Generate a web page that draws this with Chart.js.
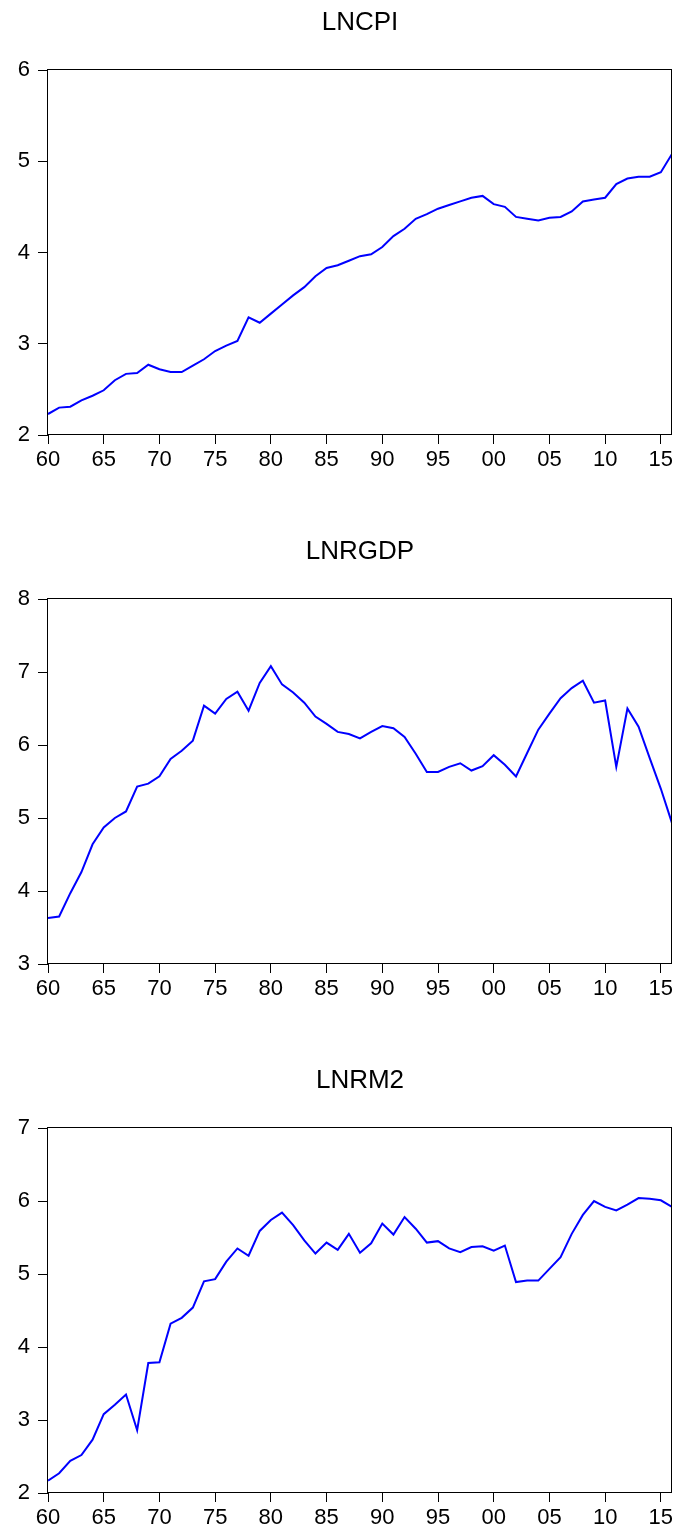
<!DOCTYPE html>
<html>
<head>
<meta charset="utf-8">
<script src="https://cdn.jsdelivr.net/npm/chart.js@4.4.1/dist/chart.umd.min.js"></script>
<style>
html, body { margin: 0; padding: 0; background: #fff; overflow: hidden; }
canvas { position: absolute; left: 0; }
</style>
</head>
<body>
<canvas id="cpiCanvas" width="680" height="470" style="top:0px"></canvas>
<canvas id="gdpCanvas" width="680" height="470" style="top:529px"></canvas>
<canvas id="m2Canvas" width="680" height="470" style="top:1058px"></canvas>
<script>
const years = [1960, 1961, 1962, 1963, 1964, 1965, 1966, 1967, 1968, 1969,
    1970, 1971, 1972, 1973, 1974, 1975, 1976, 1977, 1978, 1979,
    1980, 1981, 1982, 1983, 1984, 1985, 1986, 1987, 1988, 1989,
    1990, 1991, 1992, 1993, 1994, 1995, 1996, 1997, 1998, 1999,
    2000, 2001, 2002, 2003, 2004, 2005, 2006, 2007, 2008, 2009,
    2010, 2011, 2012, 2013, 2014, 2015, 2016];
const xTickLabels = ['60', '65', '70', '75', '80', '85', '90', '95', '00', '05', '10', '15'];

const lncpi = [2.23, 2.30, 2.31, 2.38, 2.43, 2.49, 2.60, 2.67, 2.68, 2.77,
    2.72, 2.69, 2.69, 2.76, 2.83, 2.92, 2.98, 3.03, 3.29, 3.23,
    3.33, 3.43, 3.53, 3.62, 3.74, 3.83, 3.86, 3.91, 3.96, 3.98,
    4.06, 4.18, 4.26, 4.37, 4.42, 4.48, 4.52, 4.56, 4.60, 4.62,
    4.53, 4.50, 4.39, 4.37, 4.35, 4.38, 4.39, 4.45, 4.56, 4.58,
    4.60, 4.75, 4.81, 4.83, 4.83, 4.88, 5.08];

const lnrgdp = [3.63, 3.65, 3.97, 4.26, 4.64, 4.87, 5.00, 5.09, 5.43, 5.47,
    5.57, 5.81, 5.92, 6.06, 6.54, 6.43, 6.63, 6.73, 6.47, 6.85,
    7.08, 6.83, 6.72, 6.58, 6.39, 6.29, 6.18, 6.15, 6.09, 6.18,
    6.26, 6.23, 6.11, 5.88, 5.63, 5.63, 5.70, 5.75, 5.65, 5.71,
    5.86, 5.73, 5.57, 5.89, 6.21, 6.43, 6.64, 6.78, 6.88, 6.58,
    6.61, 5.70, 6.50, 6.25, 5.82, 5.40, 4.93];

const lnrm2 = [2.17, 2.27, 2.44, 2.52, 2.73, 3.08, 3.21, 3.35, 2.86, 3.78,
    3.79, 4.32, 4.40, 4.54, 4.90, 4.93, 5.17, 5.35, 5.25, 5.59,
    5.74, 5.84, 5.67, 5.46, 5.28, 5.43, 5.33, 5.55, 5.29, 5.42,
    5.69, 5.54, 5.78, 5.62, 5.43, 5.45, 5.35, 5.30, 5.37, 5.38,
    5.32, 5.39, 4.89, 4.91, 4.91, 5.07, 5.23, 5.55, 5.81, 6.00,
    5.92, 5.87, 5.95, 6.04, 6.03, 6.01, 5.92];

const fontFamily = "'Liberation Sans', Arial, Helvetica, sans-serif";

// box around the plot area, like the eviews graph frame
const frame = {
    id: 'frame',
    afterDatasetsDraw(chart) {
        const a = chart.chartArea;
        const ctx = chart.ctx;
        ctx.save();
        ctx.strokeStyle = '#000';
        ctx.lineWidth = 1;
        ctx.strokeRect(Math.round(a.left) - 0.5, Math.round(a.top) - 0.5,
            Math.round(a.right - a.left), Math.round(a.bottom - a.top));
        ctx.restore();
    }
};

function makeChart(canvasId, title, values, yMin, yMax) {
    const ctx = document.getElementById(canvasId).getContext('2d');
    return new Chart(ctx, {
        type: 'line',
        data: {
            datasets: [{
                label: title,
                data: years.map((yr, i) => ({ x: yr, y: values[i] })),
                borderColor: '#0000ff',
                borderWidth: 2,
                pointRadius: 0,
                tension: 0,
                fill: false
            }]
        },
        options: {
            responsive: false,
            animation: false,
            layout: { padding: { left: 0, right: 8, top: 0, bottom: 0 } },
            plugins: {
                legend: { display: false },
                tooltip: { enabled: false },
                title: {
                    display: true,
                    fullSize: false,
                    text: title,
                    color: '#000',
                    font: { family: fontFamily, size: 26, weight: 'normal' },
                    padding: { top: 7, bottom: 31.8 }
                }
            },
            scales: {
                x: {
                    type: 'linear',
                    min: 1960,
                    max: 2016,
                    afterFit: (scale) => { scale.height = 35; },
                    border: { display: false },
                    grid: { drawOnChartArea: false, drawTicks: true, tickLength: 9, color: '#000' },
                    ticks: {
                        stepSize: 5,
                        includeBounds: false,
                        autoSkip: false,
                        maxRotation: 0,
                        padding: 3,
                        color: '#000',
                        font: { family: fontFamily, size: 22 },
                        callback: (v) => xTickLabels[(v - 1960) / 5]
                    }
                },
                y: {
                    min: yMin,
                    max: yMax,
                    afterFit: (scale) => { scale.width = 48; },
                    border: { display: false },
                    grid: { drawOnChartArea: false, drawTicks: true, tickLength: 10, color: '#000' },
                    ticks: {
                        stepSize: 1,
                        padding: 8,
                        color: '#000',
                        font: { family: fontFamily, size: 22 }
                    }
                }
            }
        },
        plugins: [frame]
    });
}

makeChart('cpiCanvas', 'LNCPI', lncpi, 2, 6);
makeChart('gdpCanvas', 'LNRGDP', lnrgdp, 3, 8);
makeChart('m2Canvas', 'LNRM2', lnrm2, 2, 7);
</script>
</body>
</html>
